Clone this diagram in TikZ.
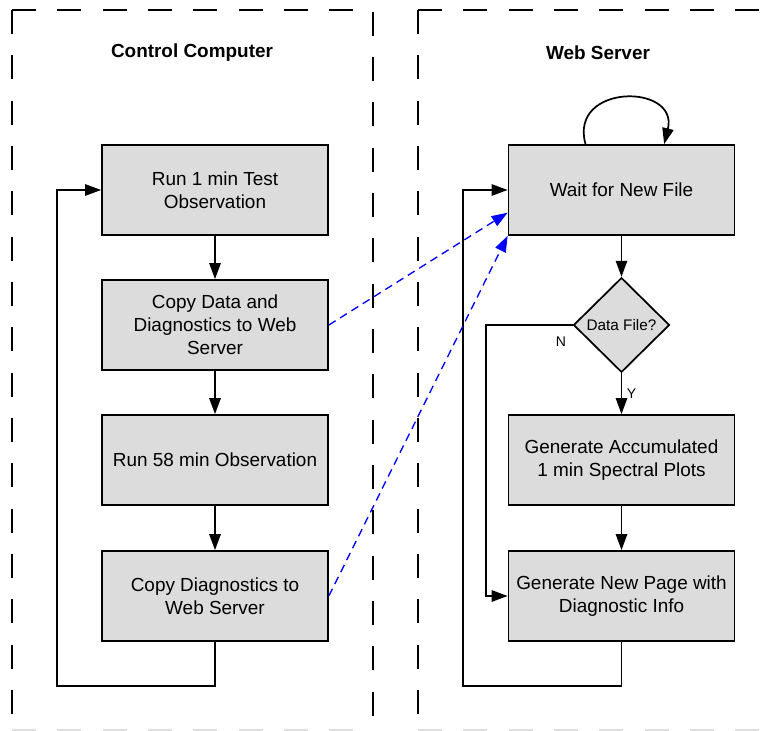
\documentclass[tikz,border=0pt]{standalone}
\usepackage{fontspec}
\setmainfont{Liberation Sans}
\usetikzlibrary{shapes.geometric,arrows.meta}
\definecolor{boxgray}{RGB}{220,220,220}
\begin{document}
\begin{tikzpicture}[
			x=0.75pt, y=-0.75pt,
			box/.style={rectangle, draw, fill=boxgray, line width=1.3pt, minimum width=169.5pt, minimum height=67.5pt, align=center, font=\fontsize{14.2}{17.2}\selectfont},
			decision/.style={diamond, draw, fill=boxgray, line width=1.3pt, aspect=1, inner sep=0, minimum width=72pt, minimum height=71pt, font=\fontsize{11.5}{13}\selectfont},
			title/.style={font=\fontsize{14.2}{17}\selectfont\bfseries},
			flow/.style={line width=1.3pt, -{Triangle[length=12pt,width=8.5pt]}},
			link/.style={blue, line width=1pt, dash pattern=on 6pt off 4pt, -{Triangle[length=12pt,width=8.5pt]}},
			frame/.style={line width=1.5pt, dash pattern=on 18pt off 16pt},
			tag/.style={font=\fontsize{10.5}{12}\selectfont},
		]
		\clip (0,0) rectangle (771,731);
		% frames
		\draw[frame] (12,10) -- (12,740);
		\draw[frame] (12,10) -- (373,10) -- (373,740);
		\draw[frame] (418,10) -- (418,740);
		\draw[frame] (418,10) -- (800,10);
		\draw[frame, gray!25, line width=0.8pt] (12,730) -- (373,730);
		\draw[frame, gray!25, line width=0.8pt] (418,730) -- (771,730);
		\node[title] (ctrl) at (192,53) {Control Computer};
		\node[title] (web) at (598,53) {Web Server};
		% control computer
		\node[box] (run1) at (215,190) {Run 1 min Test\\Observation};
		\node[box] (cpdata) at (215,325) {Copy Data and\\Diagnostics to Web\\Server};
		\node[box] (run58) at (215,460) {Run 58 min Observation};
		\node[box] (cpdiag) at (215,596) {Copy Diagnostics to\\Web Server};
		\coordinate (lback) at (57,686);
		\draw[flow] (run1) -- (cpdata);
		\draw[flow] (cpdata) -- (run58);
		\draw[flow] (run58) -- (cpdiag);
		\draw[flow] (cpdiag.south) |- (lback) |- (run1.west);
		% web server
		\node[box] (wait) at (621.5,190) {Wait for New File};
		\node[decision] (isdata) at (621.5,325) {Data File?};
		\node[box] (accum) at (621.5,460) {Generate Accumulated\\1 min Spectral Plots};
		\node[box] (newpage) at (621.5,596) {Generate New Page with\\Diagnostic Info};
		\coordinate (nturn) at (486,325);
		\coordinate (rback) at (463,686);
		\draw[flow] ([xshift=-27pt]wait.north) .. controls +(-17,-61) and +(15,-61) .. ([xshift=32pt]wait.north);
		\draw[flow] (wait) -- (isdata);
		\draw[flow] (isdata) -- node[tag, right] {Y} (accum);
		\draw[flow] (isdata.west) -- (nturn) |- (newpage.west);
		\node[tag] (nlabel) at (561,342) {N};
		\draw[flow] (accum) -- (newpage);
		\draw[flow] (newpage.south) |- (rback) |- (wait.west);
		% uploads
		\draw[link] (cpdata.east) -- ([yshift=-17pt]wait.west);
		\draw[link] (cpdiag.east) -- (wait.south west);
		\end{tikzpicture}
\end{document}
